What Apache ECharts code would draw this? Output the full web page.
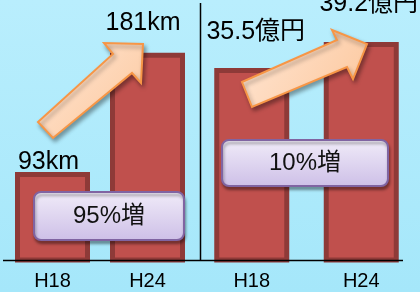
<!DOCTYPE html>
<html>
<head>
<meta charset="utf-8">
<script src="https://cdn.jsdelivr.net/npm/echarts@6/dist/echarts.min.js"></script>
<style>
  html, body { margin: 0; padding: 0; }
  #chart { width: 420px; height: 292px; }
</style>
</head>
<body>
<div id="chart"></div>
<script>
// データ
const categories = ['H18', 'H24'];
const lengthValues = [93, 181];      // 延長 (km)
const costValues = [35.5, 39.2];     // 金額 (億円)
const lengthUnit = 'km';
const costUnit = '億円';
const boxTexts = ['95%増', '10%増'];

const FONT = '"Liberation Sans", Arial, "Noto Sans CJK JP", sans-serif';

// ラベル位置の微調整 (画像に合わせる)
const lengthLabelOffsets = [[-4, 7.5], [-4.5, -12.5]];
const costLabelOffsets = [[4, -18.5], [7.5, -20.5]];

function barData(values, offsets) {
    return values.map((v, i) => ({ value: v, label: { offset: offsets[i] } }));
}

function barSeries(idx, values, unit, offsets) {
    return {
        type: 'bar',
        xAxisIndex: idx,
        yAxisIndex: idx,
        barWidth: 75,
        data: barData(values, offsets),
        itemStyle: {
            color: '#C0504D',
            borderColor: '#8E3A38',
            borderWidth: 5
        },
        label: {
            show: true,
            position: 'top',
            fontFamily: FONT,
            fontSize: 25,
            color: '#000',
            formatter: p => p.value + unit
        },
        silent: true
    };
}

const arrowStyle = {
    fill: new echarts.graphic.LinearGradient(0, 0, 1, 1, [
        { offset: 0, color: '#FFE6D4' },
        { offset: 1, color: '#FCC79C' }
    ]),
    stroke: '#F79646',
    lineWidth: 2,
    shadowColor: 'rgba(0,0,0,0.35)',
    shadowBlur: 4,
    shadowOffsetX: 2,
    shadowOffsetY: 3
};

const boxStyle = {
    fill: new echarts.graphic.LinearGradient(0, 0, 0, 1, [
        { offset: 0, color: '#F1ECF9' },
        { offset: 1, color: '#CDBFE7' }
    ]),
    stroke: '#8064A2',
    lineWidth: 2,
    shadowColor: 'rgba(0,0,0,0.35)',
    shadowBlur: 3,
    shadowOffsetX: 1,
    shadowOffsetY: 3
};

let chart = echarts.init(document.getElementById('chart'));
let option = {
    animation: false,
    backgroundColor: new echarts.graphic.LinearGradient(0, 0, 0, 1, [
        { offset: 0, color: '#B9EEFD' },
        { offset: 1, color: '#A5E7FA' }
    ]),
    grid: [
        { left: 5, right: 225, top: 0, bottom: 32 },
        { left: 197, right: 4, top: 0, bottom: 32 }
    ],
    xAxis: [0, 1].map(i => ({
        type: 'category',
        gridIndex: i,
        data: categories,
        axisLine: { show: false },
        axisTick: { show: false },
        axisLabel: { fontFamily: FONT, fontSize: 20, color: '#000', margin: 11 }
    })),
    yAxis: [
        { type: 'value', gridIndex: 0, min: 28, max: 220, show: false },
        { type: 'value', gridIndex: 1, min: 8.1, max: 45.2, show: false }
    ],
    series: [
        barSeries(0, lengthValues, lengthUnit, lengthLabelOffsets),
        barSeries(1, costValues, costUnit, costLabelOffsets)
    ],
    graphic: [
        // 軸線
        { type: 'line', z: 50, shape: { x1: 3, y1: 260.5, x2: 403, y2: 260.5 }, style: { stroke: '#000', lineWidth: 1.5 } },
        { type: 'line', z: 50, shape: { x1: 200.5, y1: 3, x2: 200.5, y2: 260.5 }, style: { stroke: '#000', lineWidth: 1.5 } },
        // 矢印
        { type: 'polygon', z: 100, shape: { points: [[38, 122], [113, 54], [104, 43], [143, 44], [141, 83], [132, 73], [53, 138]] }, style: arrowStyle },
        { type: 'polygon', z: 100, shape: { points: [[242, 82], [337, 40], [332, 30], [367, 44], [353, 79], [347, 67], [252, 107]] }, style: arrowStyle },
        // 増加率ボックス
        { type: 'rect', z: 100, shape: { x: 34, y: 192, width: 150, height: 48, r: 7 }, style: boxStyle },
        { type: 'text', z: 101, x: 109, y: 216, style: { text: boxTexts[0], font: '24px ' + FONT, fill: '#111', align: 'center', verticalAlign: 'middle' } },
        { type: 'rect', z: 100, shape: { x: 222, y: 140, width: 166, height: 46, r: 7 }, style: boxStyle },
        { type: 'text', z: 101, x: 305, y: 163, style: { text: boxTexts[1], font: '24px ' + FONT, fill: '#111', align: 'center', verticalAlign: 'middle' } }
    ]
};
chart.setOption(option);
</script>
</body>
</html>
